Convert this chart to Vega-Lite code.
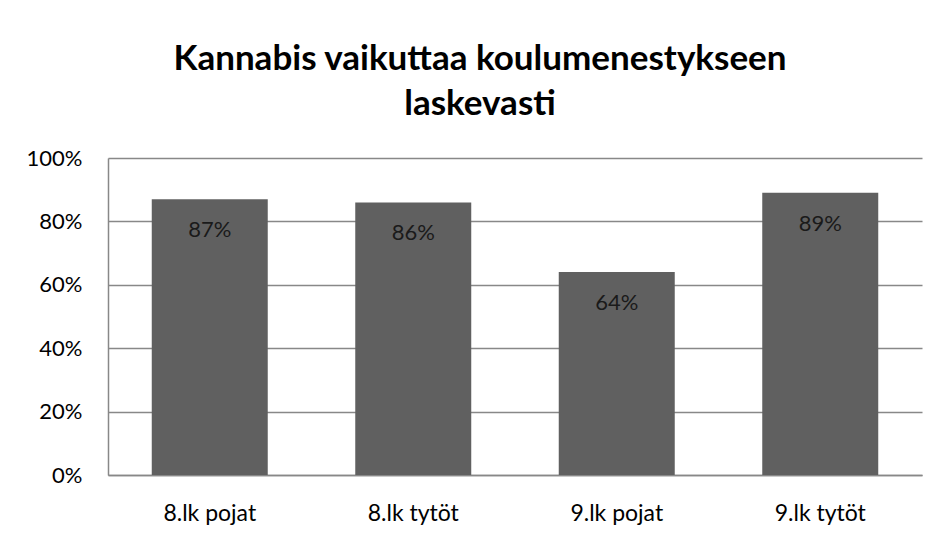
{
  "$schema": "https://vega.github.io/schema/vega-lite/v6.json",
  "width": 814,
  "height": 317,
  "autosize": {"type": "none"},
  "padding": {"left": 108, "top": 158, "right": 19, "bottom": 58},
  "background": "white",
  "title": {
    "text": ["Kannabis vaikuttaa koulumenestykseen", "laskevasti"],
    "font": "Lato",
    "fontSize": 35,
    "fontWeight": "bold",
    "color": "#000000",
    "lineHeight": 45,
    "anchor": "middle",
    "frame": "group",
    "dx": -35,
    "offset": 25
  },
  "data": {
    "values": [
      {"ryhma": "8.lk pojat", "osuus": 0.87},
      {"ryhma": "8.lk tytöt", "osuus": 0.86},
      {"ryhma": "9.lk pojat", "osuus": 0.64},
      {"ryhma": "9.lk tytöt", "osuus": 0.89}
    ]
  },
  "encoding": {
    "x": {
      "field": "ryhma",
      "type": "nominal",
      "sort": null,
      "scale": {"paddingInner": 0.43, "paddingOuter": 0.215},
      "axis": {
        "title": null,
        "labelAngle": 0,
        "ticks": false,
        "labelPadding": 27,
        "labelFont": "Lato",
        "labelFontSize": 23,
        "labelColor": "#000000",
        "domainColor": "#888888",
        "domainWidth": 1.5
      }
    },
    "y": {
      "field": "osuus",
      "type": "quantitative",
      "scale": {"domain": [0, 1]},
      "axis": {
        "title": null,
        "values": [0, 0.2, 0.4, 0.6, 0.8, 1],
        "format": ".0%",
        "ticks": false,
        "labelPadding": 26,
        "labelFont": "Lato",
        "labelFontSize": 22,
        "labelColor": "#000000",
        "domainColor": "#888888",
        "domainWidth": 1.5,
        "grid": true,
        "gridColor": "#888888",
        "gridWidth": 1.5
      }
    }
  },
  "layer": [
    {"mark": {"type": "bar", "color": "#606060"}},
    {
      "mark": {"type": "text", "dy": 31, "baseline": "middle", "font": "Lato", "fontSize": 22, "color": "#1a1a1a"},
      "encoding": {"text": {"field": "osuus", "type": "quantitative", "format": ".0%"}}
    }
  ],
  "config": {"view": {"stroke": null}}
}
